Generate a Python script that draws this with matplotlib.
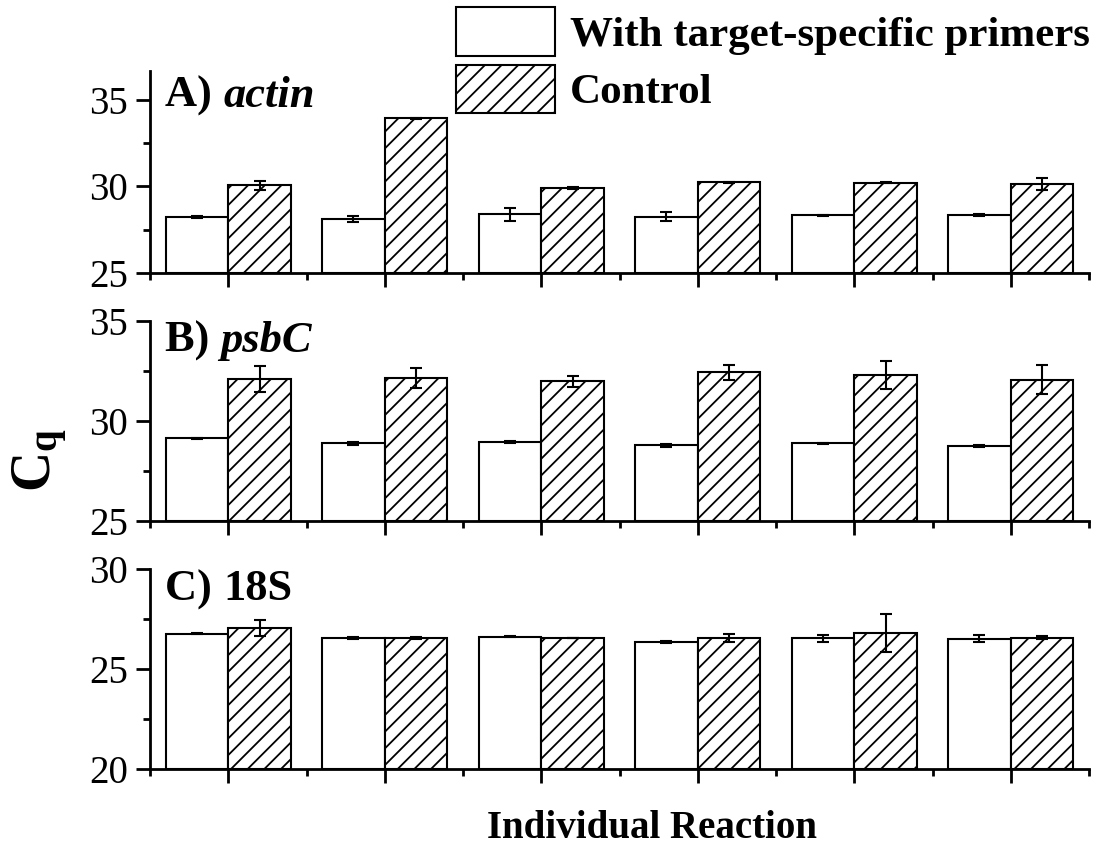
import matplotlib
matplotlib.use("Agg")
import matplotlib.pyplot as plt
import numpy as np
from matplotlib.patches import Patch
from matplotlib.ticker import MultipleLocator

plt.rcParams['font.family'] = ['Liberation Serif', 'DejaVu Serif']
plt.rcParams['mathtext.fontset'] = 'custom'
plt.rcParams['mathtext.rm'] = 'Liberation Serif'
plt.rcParams['mathtext.bf'] = 'Liberation Serif:bold'
plt.rcParams['mathtext.it'] = 'Liberation Serif:italic'
plt.rcParams['hatch.linewidth'] = 1.3

reactions = [1, 2, 3, 4, 5, 6]

actin_specific = [28.21, 28.11, 28.38, 28.25, 28.33, 28.33]
actin_specific_err = [0.05, 0.16, 0.38, 0.26, 0.04, 0.05]
actin_control = [30.08, 33.94, 29.89, 30.23, 30.21, 30.15]
actin_control_err = [0.26, 0.03, 0.06, 0.05, 0.02, 0.33]

psbc_specific = [29.12, 28.87, 28.93, 28.78, 28.88, 28.75]
psbc_specific_err = [0.04, 0.08, 0.04, 0.08, 0.02, 0.06]
psbc_control = [32.08, 32.13, 31.97, 32.43, 32.28, 32.05]
psbc_control_err = [0.64, 0.51, 0.27, 0.37, 0.69, 0.73]

s18_specific = [26.78, 26.57, 26.63, 26.38, 26.55, 26.53]
s18_specific_err = [0.03, 0.05, 0.02, 0.04, 0.17, 0.18]
s18_control = [27.08, 26.57, 26.57, 26.57, 26.82, 26.58]
s18_control_err = [0.40, 0.03, 0.01, 0.18, 0.95, 0.07]

panel_titles = [("A) ", "actin"), ("B) ", "psbC"), ("C) ", "18S")]
legend_labels = ["With target-specific primers", "Control"]

W, H = 1111, 848
fig = plt.figure(figsize=(W / 100, H / 100), dpi=100)

left = 150 / W
width = 939 / W
ax_specs = [
    (272.7, 71.0, (25, 25 + (272.7 - 71.0) / 86.3 * 5), [25, 30, 35]),
    (520.7, 320.7, (25, 35), [25, 30, 35]),
    (769.3, 569.3, (20, 30), [20, 25, 30]),
]
data = [
    (actin_specific, actin_specific_err, actin_control, actin_control_err),
    (psbc_specific, psbc_specific_err, psbc_control, psbc_control_err),
    (s18_specific, s18_specific_err, s18_control, s18_control_err),
]

x = np.array(reactions, dtype=float)
bw = 0.4
axes = []
for i, ((bot, top, ylim, yt), (sp, spe, ct, cte)) in enumerate(zip(ax_specs, data)):
    ax = fig.add_axes([left, 1 - bot / H, width, (bot - top) / H])
    axes.append(ax)
    base = ylim[0]
    ekw = dict(elinewidth=1.5, capthick=1.5, ecolor='black')
    ax.bar(x - bw / 2, np.array(sp) - base, bw, bottom=base, color='white',
           edgecolor='black', linewidth=1.5, yerr=spe, capsize=4, error_kw=ekw, zorder=2)
    ax.bar(x + bw / 2, np.array(ct) - base, bw, bottom=base, color='white',
           edgecolor='black', linewidth=1.5, hatch='//', yerr=cte, capsize=4,
           error_kw=ekw, zorder=2)
    ax.set_xlim(0.5, 6.5)
    ax.set_ylim(*ylim)
    ax.set_yticks(yt)
    ax.yaxis.set_minor_locator(MultipleLocator(2.5))
    ax.set_xticks(reactions)
    ax.set_xticklabels([])
    ax.set_xticks(np.arange(0.5, 6.6, 1.0), minor=True)
    for s in ['top', 'right']:
        ax.spines[s].set_visible(False)
    for s in ['left', 'bottom']:
        ax.spines[s].set_linewidth(2.0)
    ax.tick_params(axis='both', which='major', direction='out', length=10, width=2.0,
                   labelsize=28, pad=6)
    ax.tick_params(axis='both', which='minor', direction='out', length=5, width=2.0)
    pre, name = panel_titles[i]
    style = 'italic' if i < 2 else 'normal'
    ty = 0.975 if i == 0 else 1.0
    t1 = ax.text(0.016, ty, pre, transform=ax.transAxes, fontsize=32,
                 fontweight='bold', va='top', ha='left')
    fig.canvas.draw()
    bb = t1.get_window_extent()
    inv = ax.transAxes.inverted()
    x1 = inv.transform((bb.x1, bb.y0))[0]
    ax.text(x1, ty, name, transform=ax.transAxes, fontsize=32,
            fontweight='bold', fontstyle=style, va='top', ha='left')

handles = [Patch(facecolor='white', edgecolor='black', linewidth=1.5),
           Patch(facecolor='white', edgecolor='black', linewidth=1.5, hatch='//')]
fig.legend(handles, legend_labels, loc='upper left', bbox_to_anchor=(456 / W, 1 - 7 / H),
           frameon=False, prop={'size': 31, 'weight': 'bold'}, handlelength=2.3,
           handleheight=1.37, handletextpad=0.35, labelspacing=0.2, borderpad=0.0,
           borderaxespad=0.0)

fig.text(40 / W, 1 - 460 / H, r'$\mathbf{C}_{\mathbf{q}}$', fontsize=40, rotation=90,
         ha='center', va='center')
fig.text(652 / W, 1 - 828 / H, 'Individual Reaction', fontsize=28, fontweight='bold',
         ha='center', va='center')

fig.savefig('out.png', dpi=100)
